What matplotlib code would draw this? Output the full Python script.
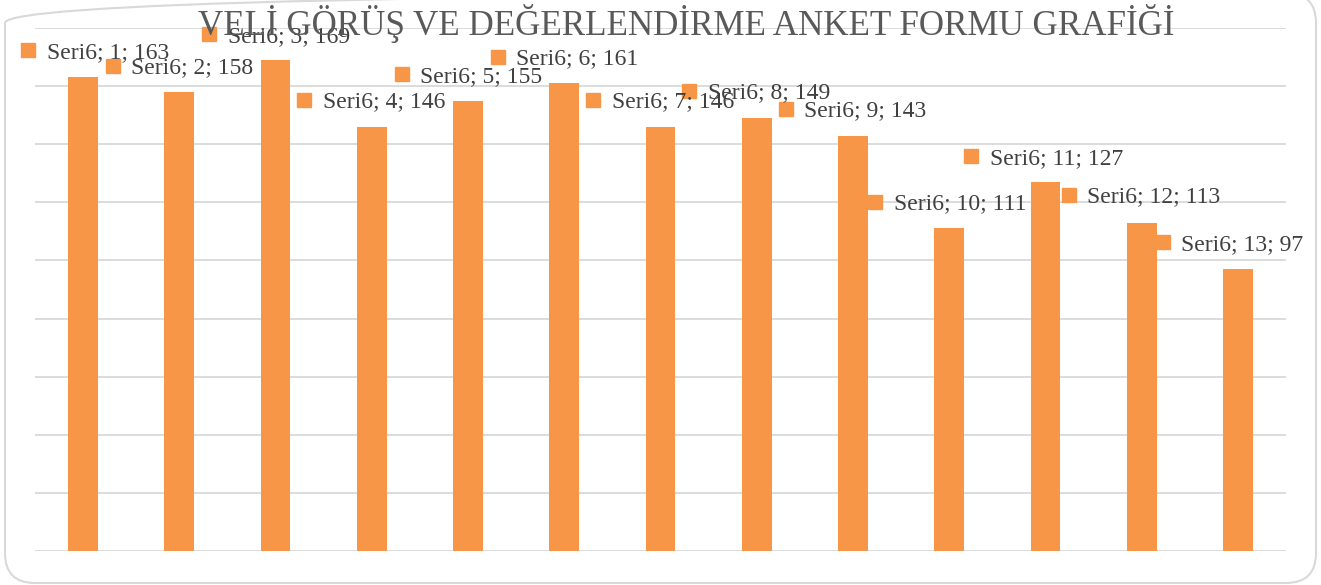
import matplotlib.pyplot as plt
from matplotlib.patches import FancyBboxPatch

# data
categories = [1, 2, 3, 4, 5, 6, 7, 8, 9, 10, 11, 12, 13]
values = [163, 158, 169, 146, 155, 161, 146, 149, 143, 111, 127, 113, 97]
series_name = "Seri6"
title = "VELİ GÖRÜŞ VE DEĞERLENDİRME ANKET FORMU GRAFİĞİ"

# where excel dropped the data labels (x in category index, y in data units)
label_x = [-0.57, 0.31, 1.31, 2.30, 3.31, 4.31, 5.30, 6.30, 7.30, 8.23, 9.23, 10.24, 11.22]
label_y = [172.4, 166.9, 177.9, 155.2, 164.1, 170.0, 155.2, 158.3, 152.1, 120.1, 135.9, 122.5, 106.3]

orange = "#F79646"
text_col = "#404040"
grid_col = "#D9D9D9"

plt.rcParams['font.family'] = ['Liberation Serif', 'DejaVu Serif']

fig = plt.figure(figsize=(13.21, 5.85), dpi=100)
ax = fig.add_axes([35 / 1321, 1 - 551 / 585, 1251 / 1321, 523 / 585])

xs = list(range(len(categories)))
ax.bar(xs, values, width=0.31, color=orange, zorder=2)

ax.set_xlim(-0.5, len(categories) - 0.5)
ax.set_ylim(0, 180)
ax.set_yticks(range(0, 181, 20))
ax.set_xticks([])
ax.yaxis.grid(True, color=grid_col, linewidth=1.3)
ax.set_axisbelow(True)
ax.tick_params(left=False, labelleft=False)
for s in ax.spines.values():
    s.set_visible(False)

for i in range(len(categories)):
    ax.plot(label_x[i], label_y[i], marker='s', markersize=9.5, color=orange,
            linestyle='none', clip_on=False, zorder=3)
    ax.annotate(f"{series_name}; {categories[i]}; {values[i]}",
                (label_x[i], label_y[i]), xytext=(13.3, -1.5),
                textcoords='offset points', va='center', ha='left',
                fontsize=17, color=text_col, zorder=4, annotation_clip=False)

fig.text(0.5197, 1 - 35 / 585, title, ha='center', va='baseline',
         fontsize=25.2, color="#595959")

border = FancyBboxPatch((0.05, 0.02), 13.11, 5.9,
                        boxstyle="round,pad=0,rounding_size=0.3",
                        transform=fig.dpi_scale_trans, fill=False,
                        edgecolor="#D9D9D9", linewidth=1.5)
fig.patches.append(border)

fig.savefig("out.png", dpi=100)
